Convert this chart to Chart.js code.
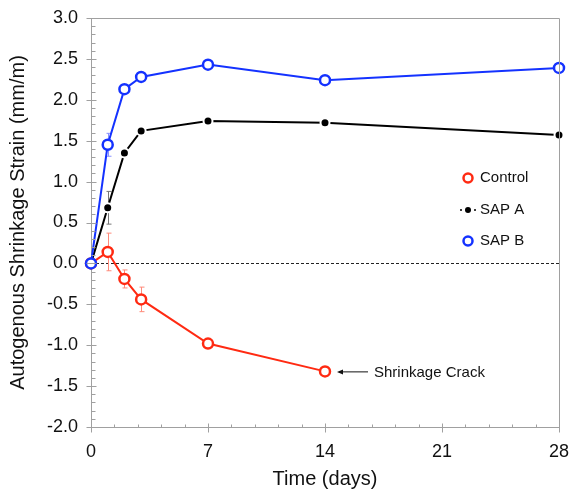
<!DOCTYPE html>
<html>
<head>
<meta charset="utf-8">
<script src="https://cdn.jsdelivr.net/npm/chart.js@4.4.1/dist/chart.umd.min.js"></script>
<style>
    html, body { margin: 0; padding: 0; background: #fff; }
    #wrap { width: 570px; height: 493px; }
</style>
</head>
<body>
<div id="wrap"><canvas id="myChart"></canvas></div>
<script>
// data
const days = [0, 1, 2, 3, 7, 14, 28];
const controlDays = [0, 1, 2, 3, 7, 14];
const controlValues = [0, 0.14, -0.19, -0.44, -0.98, -1.32];
const controlErrors = [0, 0.23, 0.11, 0.15, 0.03, 0.06];
const sapAValues = [0, 0.68, 1.35, 1.62, 1.74, 1.72, 1.57];
const sapAErrors = [0, 0.20, 0, 0, 0, 0, 0];
const sapBValues = [0, 1.45, 2.13, 2.28, 2.43, 2.24, 2.39];
const sapBErrors = [0, 0.14, 0, 0, 0, 0, 0];
const xTickLabels = [0, 7, 14, 21, 28];
const legendLabels = ['Control', 'SAP A', 'SAP B'];

const RED = '#ff2a12';
const BLACK = '#000000';
const BLUE = '#1432ff';
const AXIS = '#a0a0a0';
const FONT = "'Liberation Sans', Arial, sans-serif";

function toPoints(xs, ys) {
    return xs.map((x, i) => ({x: x, y: ys[i]}));
}

//error bars, zero line, frame, ticks, legend and note
const extras = {
    id: 'extras',
    beforeDatasetsDraw(chart) {
        const ctx = chart.ctx;
        const xs = chart.scales.x, ys = chart.scales.y;
        const area = chart.chartArea;
        //zero line
        ctx.save();
        ctx.strokeStyle = '#222';
        ctx.lineWidth = 1;
        ctx.setLineDash([3, 2]);
        ctx.beginPath();
        ctx.moveTo(area.left, Math.round(ys.getPixelForValue(0)) + 0.5);
        ctx.lineTo(area.right, Math.round(ys.getPixelForValue(0)) + 0.5);
        ctx.stroke();
        ctx.restore();
        //error bars
        chart.data.datasets.forEach(ds => {
            ctx.save();
            ctx.strokeStyle = ds.errorColor;
            ctx.lineWidth = 1;
            ds.data.forEach((p, i) => {
                let e = ds.errors[i];
                if (!e) return;
                let px = Math.round(xs.getPixelForValue(p.x)) + 0.5;
                let top = ys.getPixelForValue(p.y + e);
                let bot = ys.getPixelForValue(p.y - e);
                ctx.beginPath();
                ctx.moveTo(px, top); ctx.lineTo(px, bot);
                ctx.moveTo(px - 2, top); ctx.lineTo(px + 3, top);
                ctx.moveTo(px - 2, bot); ctx.lineTo(px + 3, bot);
                ctx.stroke();
            });
            ctx.restore();
        });
    },
    afterDraw(chart) {
        const ctx = chart.ctx;
        const xs = chart.scales.x, ys = chart.scales.y;
        const area = chart.chartArea;
        ctx.save();
        ctx.strokeStyle = AXIS;
        ctx.lineWidth = 1;
        ctx.beginPath();
        //frame top and right
        ctx.moveTo(area.left, area.top + 0.5);
        ctx.lineTo(area.right + 0.5, area.top + 0.5);
        ctx.lineTo(area.right + 0.5, area.bottom);
        //y ticks
        let ax = Math.round(area.left) + 0.5;
        for (let k = 0; k <= 50; k++) {
            let v = -2 + k * 0.1;
            let py = Math.round(ys.getPixelForValue(v)) + 0.5;
            if (k % 5 === 0) {
                ctx.moveTo(ax - 5, py); ctx.lineTo(ax + 5, py);
            } else {
                ctx.moveTo(ax, py); ctx.lineTo(ax + 4, py);
            }
        }
        //x ticks
        let ay = Math.round(area.bottom) + 0.5;
        for (let k = 0; k <= 20; k++) {
            let v = k * 1.4;
            let px = Math.round(xs.getPixelForValue(v)) + 0.5;
            if (k % 5 === 0) {
                ctx.moveTo(px, ay - 4); ctx.lineTo(px, ay + 5);
            } else {
                ctx.moveTo(px, ay - 3); ctx.lineTo(px, ay);
            }
        }
        ctx.stroke();
        ctx.restore();

        //legend
        ctx.save();
        ctx.font = '15px ' + FONT;
        ctx.textBaseline = 'middle';
        ctx.fillStyle = '#111';
        let lx = 468, ly = [178, 210, 241];
        legendLabels.forEach((t, i) => ctx.fillText(t, lx + 12, ly[i]));
        ctx.lineWidth = 2.5;
        ctx.strokeStyle = RED; ctx.fillStyle = '#fff';
        ctx.beginPath(); ctx.arc(lx, ly[0], 4.5, 0, Math.PI * 2); ctx.fill(); ctx.stroke();
        ctx.strokeStyle = BLUE;
        ctx.beginPath(); ctx.arc(lx, ly[2], 4.5, 0, Math.PI * 2); ctx.fill(); ctx.stroke();
        ctx.fillStyle = BLACK; ctx.strokeStyle = BLACK; ctx.lineWidth = 1.5;
        ctx.beginPath(); ctx.arc(lx, ly[1], 3, 0, Math.PI * 2); ctx.fill();
        ctx.beginPath();
        ctx.moveTo(lx - 8, ly[1]); ctx.lineTo(lx - 6, ly[1]);
        ctx.moveTo(lx + 6, ly[1]); ctx.lineTo(lx + 8, ly[1]);
        ctx.stroke();
        ctx.restore();

        //shrinkage crack note
        let cx = xs.getPixelForValue(controlDays[5]);
        let cy = ys.getPixelForValue(controlValues[5]);
        ctx.save();
        ctx.strokeStyle = '#111'; ctx.fillStyle = '#111';
        ctx.lineWidth = 1;
        ctx.beginPath();
        ctx.moveTo(cx + 14, cy + 0.5); ctx.lineTo(cx + 43, cy + 0.5);
        ctx.stroke();
        ctx.beginPath();
        ctx.moveTo(cx + 12, cy + 0.5);
        ctx.lineTo(cx + 18, cy - 2);
        ctx.lineTo(cx + 18, cy + 3);
        ctx.closePath();
        ctx.fill();
        ctx.font = '15px ' + FONT;
        ctx.textBaseline = 'middle';
        ctx.fillText('Shrinkage Crack', cx + 49, cy + 1);
        ctx.restore();
    }
};

new Chart(document.getElementById('myChart'), {
    type: 'line',
    data: {
        datasets: [{
            label: 'Control',
            data: toPoints(controlDays, controlValues),
            errors: controlErrors,
            errorColor: '#ff8a7a',
            borderColor: RED,
            borderWidth: 2,
            pointRadius: 5,
            pointBorderWidth: 2.5,
            pointBackgroundColor: '#fff',
            pointBorderColor: RED,
            order: 3
        }, {
            label: 'SAP A',
            data: toPoints(days, sapAValues),
            errors: sapAErrors,
            errorColor: '#777',
            borderColor: BLACK,
            borderWidth: 2,
            pointRadius: 4.5,
            pointBorderWidth: 2,
            pointBackgroundColor: BLACK,
            pointBorderColor: '#fff',
            order: 2
        }, {
            label: 'SAP B',
            data: toPoints(days, sapBValues),
            errors: sapBErrors,
            errorColor: '#8890ff',
            borderColor: BLUE,
            borderWidth: 2,
            pointRadius: 5,
            pointBorderWidth: 2.5,
            pointBackgroundColor: '#fff',
            pointBorderColor: BLUE,
            order: 1
        }]
    },
    options: {
        responsive: true,
        maintainAspectRatio: false,
        animation: false,
        clip: false,
        layout: {padding: {left: 0, right: 11, top: 18, bottom: 0}},
        plugins: {
            legend: {display: false},
            tooltip: {enabled: false}
        },
        elements: {line: {tension: 0}},
        scales: {
            x: {
                type: 'linear',
                min: 0,
                max: 28,
                afterFit: s => { s.height = 66; s.paddingLeft = 0; s.paddingRight = 0; },
                afterBuildTicks: s => { s.ticks = xTickLabels.map(v => ({value: v})); },
                ticks: {
                    padding: 14,
                    color: '#111',
                    font: {family: FONT, size: 18},
                    maxRotation: 0,
                    callback: v => String(v)
                },
                grid: {display: false, drawTicks: false},
                border: {color: AXIS, width: 1},
                title: {
                    display: true,
                    text: 'Time (days)',
                    color: '#111',
                    font: {family: FONT, size: 20},
                    padding: {top: 0, bottom: 2}
                }
            },
            y: {
                min: -2,
                max: 3,
                afterFit: s => { s.width = 91; s.paddingTop = 0; s.paddingBottom = 0; },
                ticks: {
                    stepSize: 0.5,
                    padding: 13,
                    color: '#111',
                    font: {family: FONT, size: 18},
                    callback: v => v.toFixed(1)
                },
                grid: {display: false, drawTicks: false},
                border: {color: AXIS, width: 1},
                title: {
                    display: true,
                    text: 'Autogenous Shrinkage Strain (mm/m)',
                    color: '#111',
                    font: {family: FONT, size: 20},
                    padding: {top: 6, bottom: 0}
                }
            }
        }
    },
    plugins: [extras]
});
</script>
</body>
</html>
